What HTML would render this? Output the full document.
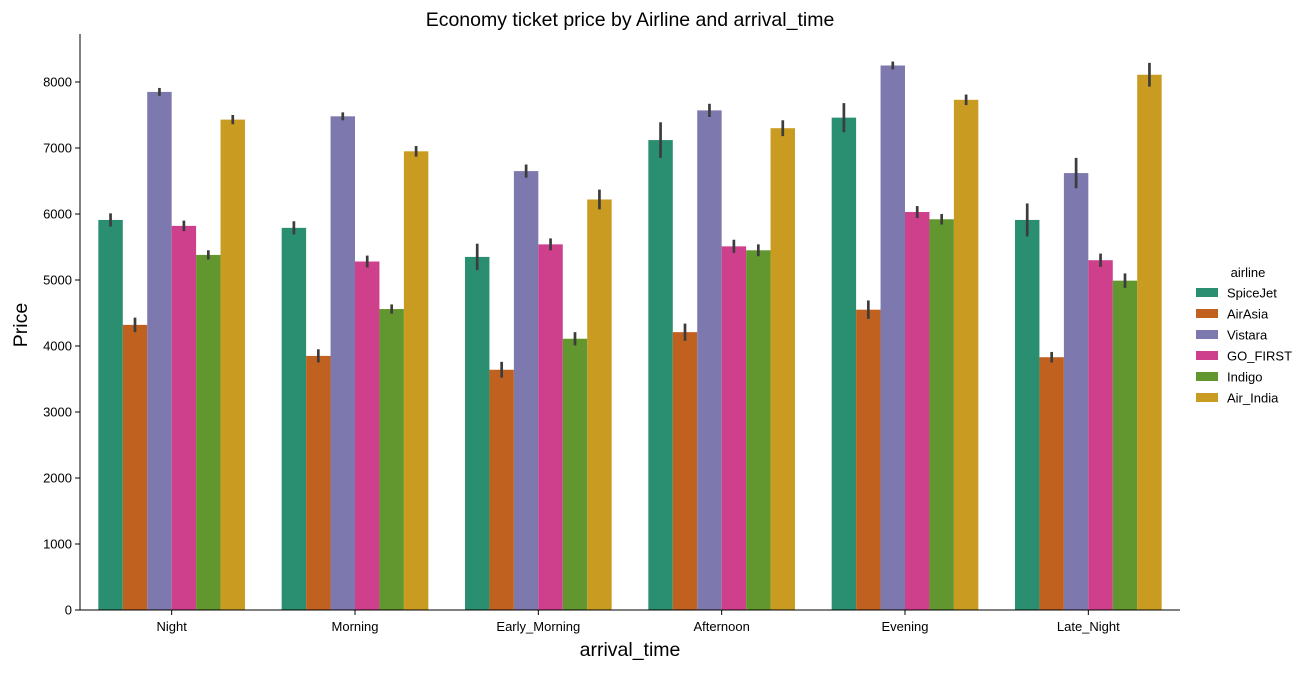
<!DOCTYPE html>
<html><head><meta charset="utf-8"><style>
body{margin:0;background:#fff}
svg{font-family:"Liberation Sans","DejaVu Sans",sans-serif}
</style></head><body>
<svg id="c" width="1313" height="671" xmlns="http://www.w3.org/2000/svg"></svg>
<script>
const categories=["Night","Morning","Early_Morning","Afternoon","Evening","Late_Night"];
const airlines=["SpiceJet","AirAsia","Vistara","GO_FIRST","Indigo","Air_India"];
const colors=["#2a8e70","#c0611f","#7d78ad","#cf408c","#62962e","#c99b20"];
const SpiceJet=[5910,5790,5350,7120,7460,5910];
const AirAsia=[4320,3850,3640,4210,4550,3830];
const Vistara=[7850,7480,6650,7570,8250,6620];
const GO_FIRST=[5820,5280,5540,5510,6030,5300];
const Indigo=[5380,4560,4110,5450,5920,4990];
const Air_India=[7430,6950,6220,7300,7730,8110];
const errSpiceJet=[100,100,200,270,220,250];
const errAirAsia=[110,100,120,130,140,80];
const errVistara=[60,60,100,100,60,230];
const errGO_FIRST=[80,90,90,100,90,100];
const errIndigo=[70,70,100,90,80,110];
const errAir_India=[70,80,150,120,80,180];
const yTicks=[0,1000,2000,3000,4000,5000,6000,7000,8000];
const series=[SpiceJet,AirAsia,Vistara,GO_FIRST,Indigo,Air_India];
const errs=[errSpiceJet,errAirAsia,errVistara,errGO_FIRST,errIndigo,errAir_India];
const NS="http://www.w3.org/2000/svg",svg=document.getElementById('c');
const X0=80,X1=1180,Y0=610,YT=34;
const y=v=>Y0-v*(528/8000);
const gw=(X1-X0)/categories.length,bw=gw*0.8/airlines.length;
const gx=i=>X0+gw*(i+0.5);
function el(t,a,txt){const e=document.createElementNS(NS,t);for(const k in a)e.setAttribute(k,a[k]);if(txt!==undefined)e.textContent=txt;svg.appendChild(e);return e;}
series.forEach((s,j)=>s.forEach((v,i)=>{
 const x=gx(i)-gw*0.4+j*bw;
 const r=el('rect',{x:x,y:y(v),width:bw,height:Y0-y(v),fill:colors[j]});
 
 
 const e=errs[j][i];
 const l=el('line',{x1:x+bw/2,x2:x+bw/2,y1:y(v-e),y2:y(v+e),stroke:'#3c3c3c','stroke-width':2.7});
 
 
}));
const ax=el('line',{x1:X0,x2:X0,y1:YT,y2:Y0,stroke:'#000','stroke-width':1});

const bx=el('line',{x1:X0,x2:X1,y1:Y0,y2:Y0,stroke:'#000','stroke-width':1});

yTicks.forEach(t=>{
 el('line',{x1:X0-5,x2:X0,y1:y(t),y2:y(t),stroke:'#000'});
 const tx=el('text',{x:X0-8,y:y(t)+4.5,'text-anchor':'end','font-size':13},t);
 
});
categories.forEach((c,i)=>{
 el('line',{x1:gx(i),x2:gx(i),y1:Y0,y2:Y0+5,stroke:'#000'});
 const tx=el('text',{x:gx(i),y:Y0+21,'text-anchor':'middle','font-size':13},c);
 
});
let t=el('text',{x:630,y:26,'text-anchor':'middle','font-size':19.5},'Economy ticket price by Airline and arrival_time');

t=el('text',{x:630,y:656,'text-anchor':'middle','font-size':19.5},'arrival_time');

t=el('text',{x:27,y:325,'text-anchor':'middle','font-size':19.5,transform:'rotate(-90 27 325)'},'Price');

t=el('text',{x:1248,y:277,'text-anchor':'middle','font-size':13},'airline');

airlines.forEach((a,j)=>{
 const yy=293+j*21;
 const r=el('rect',{x:1196,y:yy-5,width:22,height:9,fill:colors[j]});
 
 const tx=el('text',{x:1227,y:yy+4.5,'font-size':13},a);
 
});
</script>
</body></html>
